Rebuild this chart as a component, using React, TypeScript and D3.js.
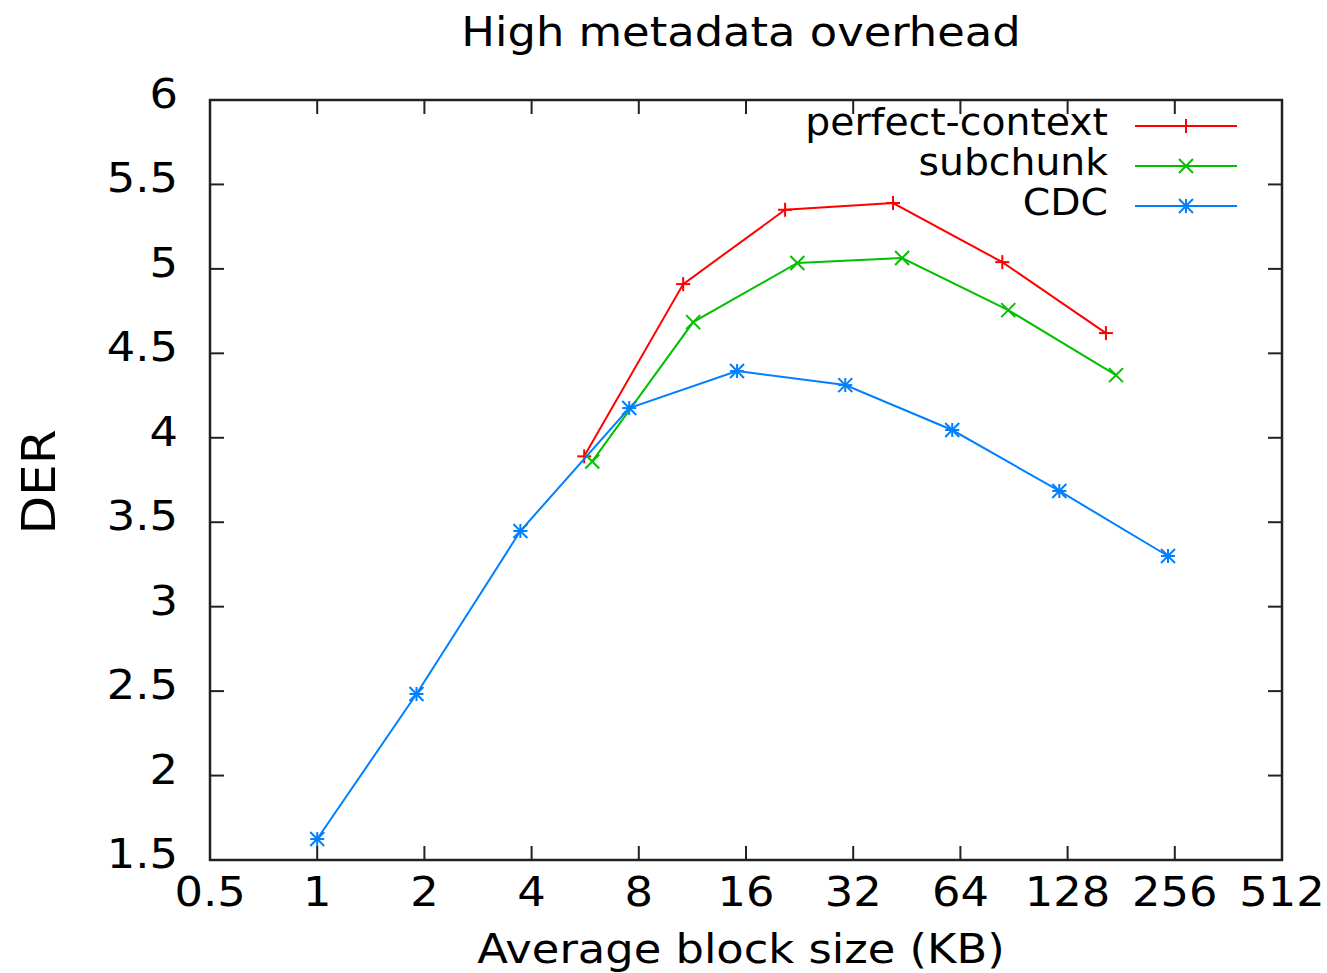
import React, { useEffect, useRef } from "react";
import * as d3 from "d3";

const xTicks = [0.5, 1, 2, 4, 8, 16, 32, 64, 128, 256, 512];
const yTicks = [1.5, 2, 2.5, 3, 3.5, 4, 4.5, 5, 5.5, 6];

const perfectX = [5.62, 10.66, 20.6, 41.4, 83.9, 164];
const perfectY = [3.89, 4.91, 5.35, 5.39, 5.04, 4.62];

const subchunkX = [5.92, 11.37, 22.3, 43.9, 87.2, 175];
const subchunkY = [3.86, 4.685, 5.035, 5.064, 4.756, 4.371];

const cdcX = [1, 1.9, 3.72, 7.52, 15.1, 30.4, 60.7, 121.3, 245];
const cdcY = [1.624, 2.483, 3.448, 4.176, 4.395, 4.312, 4.046, 3.685, 3.3];

const seriesNames = ["perfect-context", "subchunk", "CDC"];
const seriesColors = ["#ff0000", "#00c000", "#0080ff"];

export default function App() {
  const svgRef = useRef<SVGSVGElement>(null);

  useEffect(() => {
    const width = 1327;
    const height = 973;
    const plot = { left: 210, right: 1282, top: 100, bottom: 860 };
    const font = "'DejaVu Sans', sans-serif";
    const stretch = 1.12; // gnuplot text is a bit wider than plain DejaVu

    const svg = d3.select(svgRef.current).attr("width", width).attr("height", height);
    svg.selectAll("*").remove();

    const x = d3.scaleLog().base(2).domain([0.5, 512]).range([plot.left, plot.right]);
    const y = d3.scaleLinear().domain([1.5, 6]).range([plot.bottom, plot.top]);

    const tickLen = 14;
    const axisColor = "#222";

    const label = (tx: number, ty: number, str: string, anchor: string, size: number, sx: number, rot = 0) =>
      svg.append("text")
        .attr("transform", `translate(${tx},${ty}) rotate(${rot}) scale(${sx},1)`)
        .attr("text-anchor", anchor)
        .attr("font-family", font)
        .attr("font-size", size)
        .text(str);

    // ticks on all four sides, pointing inward
    xTicks.slice(1, -1).forEach((t) => {
      svg.append("line").attr("x1", x(t)).attr("x2", x(t))
        .attr("y1", plot.bottom).attr("y2", plot.bottom - tickLen)
        .attr("stroke", axisColor).attr("stroke-width", 2);
      svg.append("line").attr("x1", x(t)).attr("x2", x(t))
        .attr("y1", plot.top).attr("y2", plot.top + tickLen)
        .attr("stroke", axisColor).attr("stroke-width", 2);
    });
    yTicks.slice(1, -1).forEach((t) => {
      svg.append("line").attr("x1", plot.left).attr("x2", plot.left + tickLen)
        .attr("y1", y(t)).attr("y2", y(t))
        .attr("stroke", axisColor).attr("stroke-width", 2);
      svg.append("line").attr("x1", plot.right).attr("x2", plot.right - tickLen)
        .attr("y1", y(t)).attr("y2", y(t))
        .attr("stroke", axisColor).attr("stroke-width", 2);
    });

    svg.append("rect")
      .attr("x", plot.left).attr("y", plot.top)
      .attr("width", plot.right - plot.left).attr("height", plot.bottom - plot.top)
      .attr("fill", "none").attr("stroke", axisColor).attr("stroke-width", 2.5);

    // tick labels
    xTicks.forEach((t) => label(x(t), 906, String(t), "middle", 40, stretch));
    yTicks.forEach((t) => label(178, y(t) + 8, String(t), "end", 40, stretch));

    // titles
    label(741, 46, "High metadata overhead", "middle", 40, stretch);
    label(741, 963, "Average block size (KB)", "middle", 40, stretch);
    label(55, 482, "DER", "middle", 46, 1.09, -90);

    const ms = 7;
    const drawMarker = (g: any, cx: number, cy: number, kind: number, color: string) => {
      const plus = () => {
        g.append("line").attr("x1", cx - ms).attr("x2", cx + ms).attr("y1", cy).attr("y2", cy)
          .attr("stroke", color).attr("stroke-width", 2);
        g.append("line").attr("x1", cx).attr("x2", cx).attr("y1", cy - ms).attr("y2", cy + ms)
          .attr("stroke", color).attr("stroke-width", 2);
      };
      const cross = () => {
        g.append("line").attr("x1", cx - ms).attr("x2", cx + ms).attr("y1", cy - ms).attr("y2", cy + ms)
          .attr("stroke", color).attr("stroke-width", 2);
        g.append("line").attr("x1", cx - ms).attr("x2", cx + ms).attr("y1", cy + ms).attr("y2", cy - ms)
          .attr("stroke", color).attr("stroke-width", 2);
      };
      if (kind === 0) plus();
      else if (kind === 1) cross();
      else { plus(); cross(); }
    };

    const allSeries = [
      { xs: perfectX, ys: perfectY },
      { xs: subchunkX, ys: subchunkY },
      { xs: cdcX, ys: cdcY },
    ];

    const line = d3.line<[number, number]>().x((d) => x(d[0])).y((d) => y(d[1]));

    allSeries.forEach((s, i) => {
      const pts: [number, number][] = s.xs.map((v, k) => [v, s.ys[k]]);
      const g = svg.append("g");
      g.append("path").attr("d", line(pts)).attr("fill", "none")
        .attr("stroke", seriesColors[i]).attr("stroke-width", 2);
      pts.forEach((p) => drawMarker(g, x(p[0]), y(p[1]), i, seriesColors[i]));
    });

    // legend
    seriesNames.forEach((name, i) => {
      const ly = 126 + i * 40;
      label(1108, ly + 9, name, "end", 38, 1.035);
      svg.append("line").attr("x1", 1135).attr("x2", 1237).attr("y1", ly).attr("y2", ly)
        .attr("stroke", seriesColors[i]).attr("stroke-width", 2);
      drawMarker(svg.append("g"), 1186, ly, i, seriesColors[i]);
    });
  }, []);

  return (
    <div style={{ position: "absolute", left: 0, top: 0, background: "#fff" }}>
      <svg ref={svgRef}></svg>
    </div>
  );
}
